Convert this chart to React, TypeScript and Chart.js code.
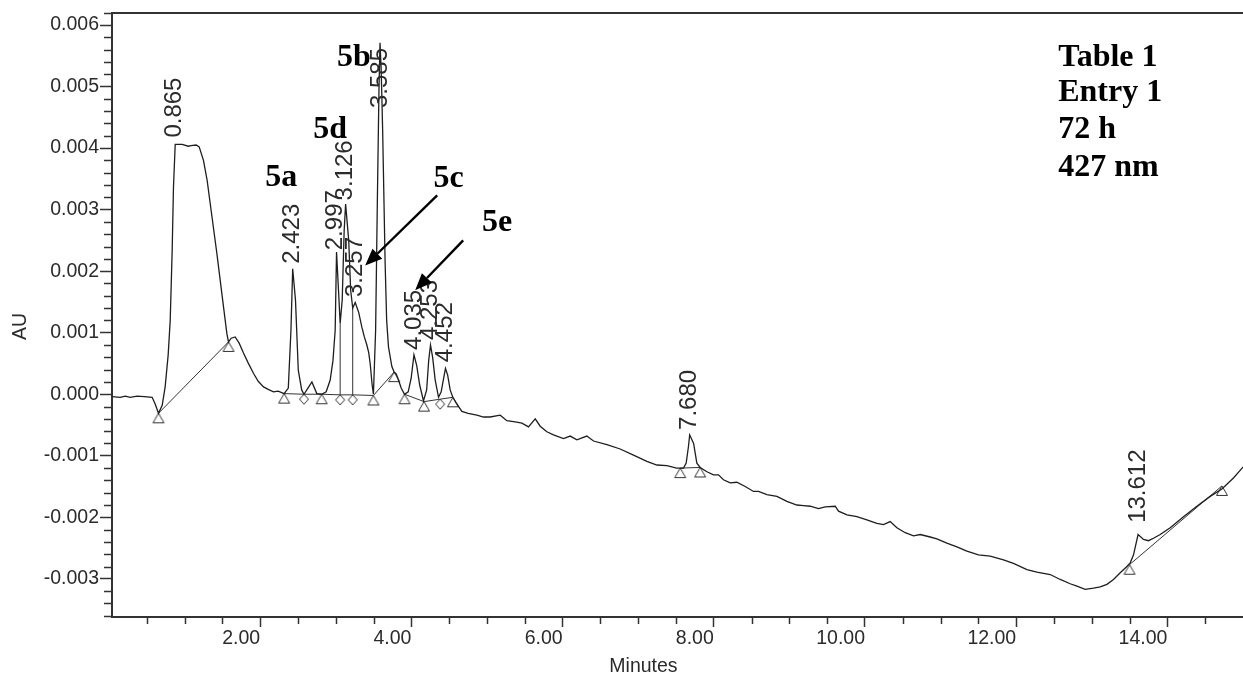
import React, { useEffect, useRef } from 'react';
import { Chart, registerables } from 'chart.js';

Chart.register(...registerables);

// ---- chromatogram trace (minutes, AU) ----
const traceTimes = [
  0.042, 0.148, 0.214, 0.280, 0.373, 0.466, 0.571, 0.611, 0.655, 0.704,
  0.743, 0.783, 0.810, 0.836, 0.853, 0.876, 0.968, 1.048, 1.087, 1.153,
  1.193, 1.250, 1.299, 1.339, 1.427, 1.515, 1.560, 1.581, 1.616, 1.669,
  1.722, 1.779, 1.841, 1.911, 1.974, 2.044, 2.106, 2.176, 2.238, 2.317,
  2.372, 2.407, 2.430, 2.467, 2.504, 2.549, 2.579, 2.632, 2.684, 2.749,
  2.813, 2.873, 2.926, 2.963, 2.992, 3.010, 3.036, 3.058, 3.085, 3.111,
  3.130, 3.171, 3.197, 3.224, 3.257, 3.303, 3.345, 3.376, 3.411, 3.435,
  3.455, 3.481, 3.498, 3.527, 3.550, 3.571, 3.585, 3.601, 3.620, 3.653,
  3.673, 3.697, 3.742, 3.772, 3.799, 3.829, 3.865, 3.909, 3.958, 3.997,
  4.034, 4.070, 4.110, 4.160, 4.202, 4.229, 4.253, 4.282, 4.315, 4.359,
  4.394, 4.427, 4.451, 4.480, 4.513, 4.548, 4.592, 4.668, 4.751, 4.866,
  4.954, 5.042, 5.175, 5.263, 5.373, 5.462, 5.549, 5.638, 5.704, 5.792,
  5.880, 6.012, 6.101, 6.189, 6.321, 6.409, 6.586, 6.762, 6.938, 7.115,
  7.247, 7.380, 7.509, 7.599, 7.635, 7.665, 7.681, 7.733, 7.776, 7.820,
  7.909, 7.996, 8.062, 8.128, 8.217, 8.305, 8.415, 8.525, 8.591, 8.702,
  8.835, 8.967, 9.099, 9.187, 9.275, 9.385, 9.474, 9.606, 9.650, 9.761,
  9.893, 10.025, 10.157, 10.245, 10.333, 10.422, 10.532, 10.642, 10.730, 10.862,
  10.951, 11.083, 11.216, 11.348, 11.501, 11.656, 11.832, 11.964, 12.142, 12.274,
  12.450, 12.582, 12.714, 12.803, 12.913, 13.022, 13.111, 13.200, 13.287, 13.376,
  13.464, 13.508, 13.552, 13.612, 13.684, 13.750, 13.816, 13.905, 14.037, 14.213,
  14.390, 14.566, 14.721, 14.874, 15.003,
];
const traceAU = [
  -0.00004, -0.00005, -0.00003, -0.00005, -0.00003, -0.00004, -0.00005, -0.00016, -0.00031, -0.00018,
  0.00012, 0.00064, 0.00120, 0.00234, 0.00336, 0.00406, 0.00406, 0.00403, 0.00404, 0.00405,
  0.00402, 0.00380, 0.00347, 0.00310, 0.00229, 0.00142, 0.00098, 0.00085, 0.00091, 0.00093,
  0.00083, 0.00067, 0.00051, 0.00034, 0.00021, 0.00012, 0.00008, 0.00004, 0.00005, 0.00001,
  0.00010, 0.00104, 0.00204, 0.00153, 0.00039, 0.00007, 0.00000, 0.00010, 0.00020, 0.00001,
  0.00000, 0.00004, 0.00023, 0.00055, 0.00104, 0.00231, 0.00169, 0.00115, 0.00153, 0.00266,
  0.00309, 0.00250, 0.00169, 0.00140, 0.00149, 0.00133, 0.00109, 0.00094, 0.00080, 0.00068,
  0.00050, 0.00015, 0.00000, 0.00104, 0.00315, 0.00493, 0.00571, 0.00526, 0.00428, 0.00212,
  0.00120, 0.00077, 0.00045, 0.00036, 0.00033, 0.00023, 0.00010, 0.00000, 0.00004, 0.00026,
  0.00064, 0.00047, 0.00015, -0.00011, 0.00007, 0.00055, 0.00080, 0.00059, 0.00023, -0.00005,
  0.00004, 0.00026, 0.00042, 0.00031, 0.00007, -0.00005, -0.00014, -0.00028, -0.00031, -0.00034,
  -0.00037, -0.00037, -0.00034, -0.00043, -0.00045, -0.00047, -0.00053, -0.00040, -0.00052, -0.00061,
  -0.00066, -0.00072, -0.00068, -0.00074, -0.00068, -0.00076, -0.00082, -0.00089, -0.00099, -0.00109,
  -0.00115, -0.00116, -0.00120, -0.00120, -0.00112, -0.00085, -0.00066, -0.00080, -0.00112, -0.00119,
  -0.00126, -0.00131, -0.00131, -0.00139, -0.00144, -0.00143, -0.00150, -0.00158, -0.00158, -0.00163,
  -0.00166, -0.00174, -0.00180, -0.00181, -0.00182, -0.00186, -0.00183, -0.00182, -0.00190, -0.00196,
  -0.00199, -0.00204, -0.00210, -0.00212, -0.00207, -0.00217, -0.00225, -0.00230, -0.00228, -0.00232,
  -0.00235, -0.00242, -0.00248, -0.00255, -0.00261, -0.00263, -0.00269, -0.00275, -0.00285, -0.00289,
  -0.00293, -0.00301, -0.00308, -0.00312, -0.00317, -0.00315, -0.00313, -0.00309, -0.00301, -0.00290,
  -0.00280, -0.00274, -0.00261, -0.00228, -0.00236, -0.00238, -0.00234, -0.00228, -0.00217, -0.00199,
  -0.00182, -0.00166, -0.00154, -0.00136, -0.00118,
];

// ---- integration baselines (t = triangle, d = diamond) ----
const baselineTimes = [0.655, 1.581, 2.317, 2.579, 2.813, 3.058, 3.224, 3.498, 3.772, 3.909, 4.167, 4.381, 4.549, 7.556, 7.820, 13.499, 14.722];
const baselineAU = [-0.00031, 0.00085, 0.00001, 0.00000, 0.00000, -0.00001, -0.00001, -0.00002, 0.00036, 0.00000, -0.00012, -0.00008, -0.00005, -0.00120, -0.00119, -0.00277, -0.00149];
const baselineMarks = ['t', 't', 't', 'd', 't', 'd', 'd', 't', 't', 't', 't', 'd', 't', 't', 't', 't', 't'];
const baselineGroup = [1, 1, 2, 2, 2, 2, 2, 2, 2, 3, 3, 3, 3, 4, 4, 5, 5];

// ---- valley drop lines ----
const dropTimes = [3.058, 3.224];
const dropBottomAU = [-0.00001, -0.00001];
const dropTopAU = [0.00115, 0.00140];

// ---- peak retention-time labels ----
const peakRT = [0.865, 2.423, 2.997, 3.126, 3.257, 3.585, 4.035, 4.253, 4.452, 7.680, 13.612];
const peakLabelAU = [0.00417, 0.00212, 0.00234, 0.00315, 0.00158, 0.00465, 0.00072, 0.00088, 0.00052, -0.00058, -0.00209];

// ---- compound annotations ----
const compoundNames = ['5a', '5b', '5c', '5d', '5e'];
const compoundTimes = [2.066, 3.015, 4.292, 2.702, 4.933];
const compoundAU = [0.00339, 0.00534, 0.00336, 0.00417, 0.00266];

const arrowFromTimes = [4.341, 4.685];
const arrowFromAU = [0.00323, 0.00250];
const arrowToTimes = [3.389, 4.050];
const arrowToAU = [0.00209, 0.00169];

const infoLines = ['Table 1', 'Entry 1', '72 h', '427 nm'];
const infoTime = 12.556;
const infoAU = [0.00534, 0.00477, 0.00416, 0.00355];

// ---- axes ----
const xMin = 0.04;
const xMax = 15.0;
const yMin = -0.00362;
const yMax = 0.0062;
const xMajorTicks = [2, 4, 6, 8, 10, 12, 14];
const xMinorTicks = [0.5, 1, 1.5, 2.5, 3, 3.5, 4.5, 5, 5.5, 6.5, 7, 7.5, 8.5, 9, 9.5, 10.5, 11, 11.5, 12.5, 13, 13.5, 14.5];
const yMajorTicks = [-0.003, -0.002, -0.001, 0, 0.001, 0.002, 0.003, 0.004, 0.005, 0.006];
const xTitle = 'Minutes';
const yTitle = 'AU';

const SANS = '"Liberation Sans", Arial, sans-serif';
const SERIF = '"Liberation Serif", "Times New Roman", serif';
const INK = '#2b2b2b';

function makeMarker(kind: string): HTMLCanvasElement {
  const c = document.createElement('canvas');
  c.width = 16;
  c.height = 28;
  const g = c.getContext('2d')!;
  g.strokeStyle = '#333';
  g.lineWidth = 1;
  const cx = 8, cy = 14;
  g.beginPath();
  if (kind === 't') {
    g.moveTo(cx, cy);
    g.lineTo(cx + 5.5, cy + 9.5);
    g.lineTo(cx - 5.5, cy + 9.5);
  } else {
    g.moveTo(cx, cy);
    g.lineTo(cx + 4.5, cy + 5);
    g.lineTo(cx, cy + 10);
    g.lineTo(cx - 4.5, cy + 5);
  }
  g.closePath();
  g.stroke();
  return c;
}

export default function App() {
  const ref = useRef<HTMLCanvasElement | null>(null);

  useEffect(() => {
    const canvas = ref.current;
    if (!canvas) return;
    const tri = makeMarker('t');
    const dia = makeMarker('d');

    const datasets: any[] = [];
    datasets.push({
      label: 'trace',
      data: traceTimes.map((t, i) => ({ x: t, y: traceAU[i] })),
      borderColor: '#1e1e1e',
      borderWidth: 1.3,
      pointRadius: 0,
      tension: 0,
      fill: false,
    });
    const groups = Array.from(new Set(baselineGroup));
    groups.forEach((g) => {
      const idx = baselineGroup.map((gg, i) => (gg === g ? i : -1)).filter((i) => i >= 0);
      datasets.push({
        label: 'baseline' + g,
        data: idx.map((i) => ({ x: baselineTimes[i], y: baselineAU[i] })),
        borderColor: '#333',
        borderWidth: 1,
        tension: 0,
        fill: false,
        pointRadius: 6,
        pointStyle: (ctx: any) => (baselineMarks[idx[ctx.dataIndex]] === 'd' ? dia : tri),
      });
    });
    dropTimes.forEach((t, i) => {
      datasets.push({
        label: 'drop' + i,
        data: [
          { x: t, y: dropBottomAU[i] },
          { x: t, y: dropTopAU[i] },
        ],
        borderColor: '#333',
        borderWidth: 1,
        pointRadius: 0,
        fill: false,
      });
    });

    const overlay = {
      id: 'overlay',
      afterDatasetsDraw(chart: any) {
        const c = chart.ctx;
        const xs = chart.scales.x;
        const ys = chart.scales.y;
        const area = chart.chartArea;

        // peak labels
        c.save();
        c.fillStyle = INK;
        c.font = '24px ' + SANS;
        c.textAlign = 'left';
        c.textBaseline = 'middle';
        peakRT.forEach((rt, i) => {
          const px = xs.getPixelForValue(rt);
          const py = ys.getPixelForValue(peakLabelAU[i]);
          c.save();
          c.translate(px, py);
          c.rotate(-Math.PI / 2);
          c.fillText(rt.toFixed(3), 0, 0);
          c.restore();
        });
        c.restore();

        // compound labels
        c.save();
        c.fillStyle = '#000';
        c.font = 'bold 32px ' + SERIF;
        c.textAlign = 'left';
        c.textBaseline = 'alphabetic';
        compoundNames.forEach((n, i) => {
          c.fillText(n, xs.getPixelForValue(compoundTimes[i]), ys.getPixelForValue(compoundAU[i]));
        });
        infoLines.forEach((s, i) => {
          c.fillText(s, xs.getPixelForValue(infoTime), ys.getPixelForValue(infoAU[i]));
        });
        c.restore();

        // arrows
        c.save();
        c.strokeStyle = '#000';
        c.fillStyle = '#000';
        c.lineWidth = 2.4;
        arrowFromTimes.forEach((t, i) => {
          const x1 = xs.getPixelForValue(t);
          const y1 = ys.getPixelForValue(arrowFromAU[i]);
          const x2 = xs.getPixelForValue(arrowToTimes[i]);
          const y2 = ys.getPixelForValue(arrowToAU[i]);
          const ang = Math.atan2(y2 - y1, x2 - x1);
          const hl = 17, hw = 7;
          const bx = x2 - hl * Math.cos(ang);
          const by = y2 - hl * Math.sin(ang);
          c.beginPath();
          c.moveTo(x1, y1);
          c.lineTo(bx, by);
          c.stroke();
          c.beginPath();
          c.moveTo(x2, y2);
          c.lineTo(bx + hw * Math.sin(ang), by - hw * Math.cos(ang));
          c.lineTo(bx - hw * Math.sin(ang), by + hw * Math.cos(ang));
          c.closePath();
          c.fill();
        });
        c.restore();

        // minor ticks
        c.save();
        c.strokeStyle = '#333';
        c.lineWidth = 1.5;
        c.beginPath();
        xMinorTicks.forEach((t) => {
          const px = Math.round(xs.getPixelForValue(t)) + 0.5;
          c.moveTo(px, area.bottom);
          c.lineTo(px, area.bottom + 7);
        });
        for (let k = 0; k < yMajorTicks.length; k++) {
          const v0 = yMajorTicks[k];
          for (let j = 1; j < 5; j++) {
            const v = v0 + (j * 0.001) / 5;
            if (v > yMax) continue;
            const py = Math.round(ys.getPixelForValue(v)) + 0.5;
            c.moveTo(area.left, py);
            c.lineTo(area.left - 8, py);
          }
        }
        for (let j = 1; j < 5; j++) {
          const v = yMajorTicks[0] - (j * 0.001) / 5;
          if (v < yMin) continue;
          const py = Math.round(ys.getPixelForValue(v)) + 0.5;
          c.moveTo(area.left, py);
          c.lineTo(area.left - 8, py);
        }
        c.stroke();
        c.restore();

        // axis titles
        c.save();
        c.fillStyle = INK;
        c.font = '19.5px ' + SANS;
        c.textAlign = 'center';
        c.textBaseline = 'middle';
        c.fillText(xTitle, xs.getPixelForValue(7.07), area.bottom + 50);
        c.translate(21, ys.getPixelForValue(0.00110));
        c.rotate(-Math.PI / 2);
        c.fillText(yTitle, 0, 0);
        c.restore();
      },
    };

    const chart = new Chart(canvas, {
      type: 'line',
      data: { datasets },
      options: {
        animation: false,
        responsive: false,
        devicePixelRatio: 1,
        events: [],
        layout: { padding: 0, autoPadding: false },
        plugins: {
          legend: { display: false },
          tooltip: { enabled: false },
          title: { display: false },
        },
        scales: {
          x: {
            type: 'linear',
            position: 'bottom',
            min: xMin,
            max: xMax,
            afterBuildTicks: (s: any) => {
              s.ticks = xMajorTicks.map((v) => ({ value: v }));
            },
            afterFit: (s: any) => {
              s.height = 60;
            },
            ticks: {
              autoSkip: false,
              maxRotation: 0,
              align: 'end',
              padding: 0,
              color: INK,
              font: { family: SANS, size: 19.5 },
              callback: (v: any) => Number(v).toFixed(2),
            },
            grid: {
              display: true,
              drawOnChartArea: false,
              drawTicks: true,
              tickLength: 10,
              tickColor: '#333',
              tickWidth: 1.5,
            },
            border: { display: true, color: '#333', width: 2 },
          },
          xTop: {
            type: 'linear',
            position: 'top',
            min: xMin,
            max: xMax,
            afterFit: (s: any) => {
              s.height = 12;
            },
            ticks: { display: false },
            grid: { display: false, drawTicks: false },
            border: { display: true, color: '#333', width: 2 },
          },
          y: {
            type: 'linear',
            position: 'left',
            min: yMin,
            max: yMax,
            afterBuildTicks: (s: any) => {
              s.ticks = yMajorTicks.map((v) => ({ value: v }));
            },
            afterFit: (s: any) => {
              s.width = 112;
            },
            ticks: {
              autoSkip: false,
              padding: 1,
              color: INK,
              font: { family: SANS, size: 19.5 },
              callback: (v: any) => Number(v).toFixed(3),
            },
            grid: {
              display: true,
              drawOnChartArea: false,
              drawTicks: true,
              tickLength: 12,
              tickColor: '#333',
              tickWidth: 1.5,
            },
            border: { display: true, color: '#333', width: 2 },
          },
        },
      } as any,
      plugins: [overlay],
    });

    return () => {
      chart.destroy();
    };
  }, []);

  return (
    <div style={{ position: 'absolute', left: 0, top: 0, width: 1243, height: 677, background: '#fff' }}>
      <canvas ref={ref} width={1243} height={677} style={{ display: 'block' }} />
    </div>
  );
}
